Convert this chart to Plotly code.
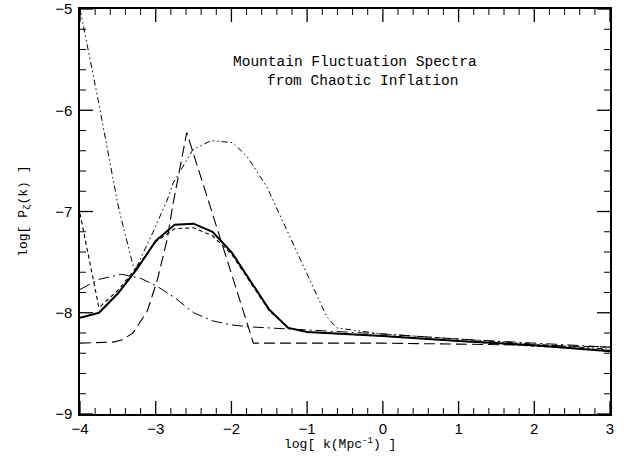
import plotly.graph_objects as go

# Solid (thick) curve
x_solid = [-4, -3.75, -3.5, -3.25, -3.0, -2.75, -2.5, -2.25, -2.0, -1.75, -1.5, -1.25, -1.0, 0, 1, 2, 3]
y_solid = [-8.05, -8.0, -7.81, -7.57, -7.29, -7.13, -7.12, -7.2, -7.4, -7.68, -7.97, -8.15, -8.19, -8.23, -8.28, -8.32, -8.38]

# Short-dashed curve
x_short = [-4, -3.75, -3.5, -3.25, -3.0, -2.75, -2.5, -2.25, -2.0, -1.75, -1.5, -1.25, -1.0, 0, 1, 2, 3]
y_short = [-7.02, -7.95, -7.78, -7.55, -7.3, -7.17, -7.16, -7.24, -7.42, -7.7, -7.98, -8.15, -8.19, -8.23, -8.28, -8.33, -8.37]

# Long-dashed curve
x_long = [-4, -3.56, -3.45, -3.3, -3.11, -2.98, -2.85, -2.77, -2.59, -1.71, -1, 0, 1, 2, 3]
y_long = [-8.30, -8.29, -8.27, -8.20, -7.98, -7.68, -7.28, -6.92, -6.22, -8.30, -8.30, -8.30, -8.31, -8.32, -8.34]

# Dash-dot curve
x_dashdot = [-4, -3.75, -3.45, -3.2, -3.0, -2.75, -2.5, -2.25, -2.0, -1.75, -1.5, -1.0, 0, 1, 2, 3]
y_dashdot = [-7.77, -7.67, -7.62, -7.66, -7.73, -7.85, -8.0, -8.08, -8.12, -8.14, -8.15, -8.17, -8.21, -8.26, -8.30, -8.34]

# Dash-dot-dot curve
x_dd = [-4, -3.76, -3.51, -3.46, -3.3, -3.27, -3.21, -3.04, -2.85, -2.77, -2.51, -2.27, -1.98, -1.79, -1.53, -1.27, -1.0, -0.74, -0.61, -0.3, 0, 1, 2, 3]
y_dd = [-5.0, -5.9, -6.89, -7.06, -7.53, -7.58, -7.48, -7.21, -6.89, -6.72, -6.39, -6.30, -6.32, -6.46, -6.76, -7.18, -7.61, -8.04, -8.15, -8.18, -8.21, -8.26, -8.31, -8.36]

x_range = [-4, 3]
y_range = [-9, -5]
major_step = 1
minor_step = 0.2

fig = go.Figure()
fig.add_trace(go.Scatter(x=x_dd, y=y_dd, mode="lines",
                         line=dict(color="black", width=1, dash="6px,3px,1.5px,3px,1.5px,3px")))
fig.add_trace(go.Scatter(x=x_dashdot, y=y_dashdot, mode="lines",
                         line=dict(color="black", width=1, dash="11px,4px,2px,4px")))
fig.add_trace(go.Scatter(x=x_long, y=y_long, mode="lines",
                         line=dict(color="black", width=1.1, dash="11px,5px")))
fig.add_trace(go.Scatter(x=x_short, y=y_short, mode="lines",
                         line=dict(color="black", width=1.1, dash="4px,3px")))
fig.add_trace(go.Scatter(x=x_solid, y=y_solid, mode="lines",
                         line=dict(color="black", width=2)))

font_ticks = dict(family="Liberation Sans, Arial", size=15, color="black")
base = dict(showline=True, linecolor="black", linewidth=1.5, mirror=True,
            tickmode="linear", tick0=0, dtick=major_step, ticks="",
            showgrid=False, zeroline=False, automargin=False, tickfont=font_ticks)

fig.update_xaxes(range=x_range, ticklabelstandoff=0, **base)
fig.update_yaxes(range=y_range, ticklabelstandoff=3, **base)

# tick marks on all four sides (inside), major and minor
MAJOR_LEN, MINOR_LEN = 13, 6
shapes = []


def tick_values(lo, hi, step):
    n = int(round((hi - lo) / step))
    return [lo + i * step for i in range(n + 1)]


for v in tick_values(x_range[0], x_range[1], minor_step):
    is_major = abs(v - round(v / major_step) * major_step) < 1e-6
    L = MAJOR_LEN if is_major else MINOR_LEN
    w = 1.3 if is_major else 1
    for anchor, sgn in ((0, 1), (1, -1)):
        shapes.append(dict(type="line", xref="x", yref="y domain", x0=v, x1=v,
                           ysizemode="pixel", yanchor=anchor, y0=0, y1=sgn * L,
                           line=dict(color="black", width=w)))

for v in tick_values(y_range[0], y_range[1], minor_step):
    is_major = abs(v - round(v / major_step) * major_step) < 1e-6
    L = MAJOR_LEN if is_major else MINOR_LEN
    w = 1.3 if is_major else 1
    for anchor, sgn in ((0, 1), (1, -1)):
        shapes.append(dict(type="line", yref="y", xref="x domain", y0=v, y1=v,
                           xsizemode="pixel", xanchor=anchor, x0=0, x1=sgn * L,
                           line=dict(color="black", width=w)))


def px_to_x(px):
    return -4 + (px - 80) / (530 / 7)


def py_to_y(py):
    return -5 - (py - 9) / 101.25


fig.update_layout(
    width=629, height=459,
    margin=dict(l=80, r=19, t=9, b=45, autoexpand=False),
    plot_bgcolor="white", paper_bgcolor="white",
    showlegend=False,
    shapes=shapes,
    annotations=[
        dict(text="Mountain Fluctuation Spectra", x=px_to_x(355), y=py_to_y(62), xref="x", yref="y",
             showarrow=False, font=dict(family="Liberation Mono", size=14.5, color="black")),
        dict(text="from Chaotic Inflation", x=px_to_x(362), y=py_to_y(81), xref="x", yref="y",
             showarrow=False, font=dict(family="Liberation Mono", size=14.5, color="black")),
        dict(text="log[ k(Mpc<sup>-1</sup>) ]", x=0.49, y=-0.072, xref="paper", yref="paper",
             xanchor="center", yanchor="middle", showarrow=False,
             font=dict(family="Liberation Mono", size=13, color="black")),
        dict(text="log[ P<sub>ζ</sub>(k) ]", x=-0.105, y=0.5, xref="paper", yref="paper",
             xanchor="center", yanchor="middle", textangle=-90, showarrow=False,
             font=dict(family="Liberation Mono", size=13, color="black")),
    ],
)

fig.write_html("out.html")
